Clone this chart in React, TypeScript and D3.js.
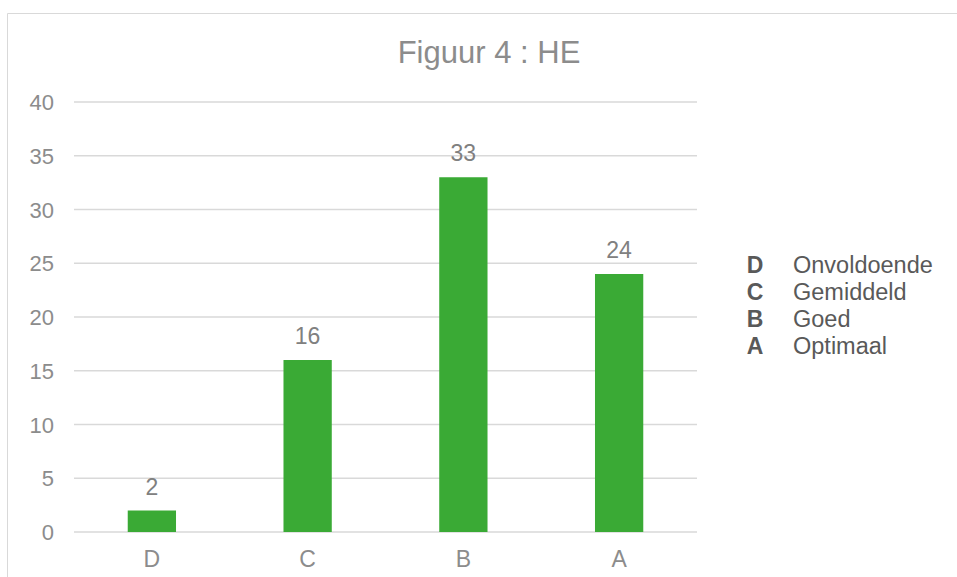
import { useMemo } from "react";
import * as d3 from "d3";

const WIDTH = 957;
const HEIGHT = 577;
const PLOT = { left: 74, right: 697, top: 102, bottom: 532 };

const categories = ["D", "C", "B", "A"];
const values = [2, 16, 33, 24];
const yTicks = [0, 5, 10, 15, 20, 25, 30, 35, 40];
const legendKeys = ["D", "C", "B", "A"];
const legendNames = ["Onvoldoende", "Gemiddeld", "Goed", "Optimaal"];

const FONT = "'Liberation Sans', Arial, sans-serif";
const GRID = "#d9d9d9";
const BAR = "#3aaa35";

export default function App() {
    const xScale = useMemo(
        () => d3.scaleBand().domain(categories).range([PLOT.left, PLOT.right]).paddingInner(0.69).paddingOuter(0.345),
        []
    );
    const yScale = useMemo(
        () => d3.scaleLinear().domain([0, 40]).range([PLOT.bottom, PLOT.top]),
        []
    );

    return (
        <div style={{ position: "absolute", left: 0, top: 0 }}>
            <svg width={WIDTH} height={HEIGHT} fontFamily={FONT}>
                <rect x={0} y={0} width={WIDTH} height={HEIGHT} fill="#fff" />
                {/* chart frame, open to the right and bottom */}
                <path d={`M7.5,${HEIGHT} V13.5 H${WIDTH}`} fill="none" stroke={GRID} strokeWidth={1} />

                <text x={489} y={63} textAnchor="middle" fontSize={31} fill="#8c8c8c">
                    Figuur 4 : HE
                </text>

                {yTicks.map((t) => (
                    <g key={t}>
                        <line
                            x1={PLOT.left}
                            x2={PLOT.right}
                            y1={yScale(t)}
                            y2={yScale(t)}
                            stroke={GRID}
                            strokeWidth={1.3}
                        />
                        <text
                            x={54}
                            y={yScale(t) + 8}
                            textAnchor="end"
                            fontSize={22}
                            fill="#8c8c8c"
                        >
                            {t}
                        </text>
                    </g>
                ))}

                {categories.map((c, i) => {
                    const x = xScale(c)!;
                    const cx = x + xScale.bandwidth() / 2;
                    return (
                        <g key={c}>
                            <rect
                                x={x}
                                y={yScale(values[i])}
                                width={xScale.bandwidth()}
                                height={yScale(0) - yScale(values[i])}
                                fill={BAR}
                            />
                            <text x={cx} y={yScale(values[i]) - 16} textAnchor="middle" fontSize={23} fill="#808080">
                                {values[i]}
                            </text>
                            <text x={cx} y={567} textAnchor="middle" fontSize={23} fill="#8c8c8c">
                                {c}
                            </text>
                        </g>
                    );
                })}

                {legendKeys.map((k, i) => (
                    <g key={k}>
                        <text x={755} y={273 + i * 27} textAnchor="middle" fontSize={23} fontWeight="bold" fill="#595959">
                            {k}
                        </text>
                        <text x={793} y={273 + i * 27} fontSize={23.5} fill="#595959">
                            {legendNames[i]}
                        </text>
                    </g>
                ))}
            </svg>
        </div>
    );
}
